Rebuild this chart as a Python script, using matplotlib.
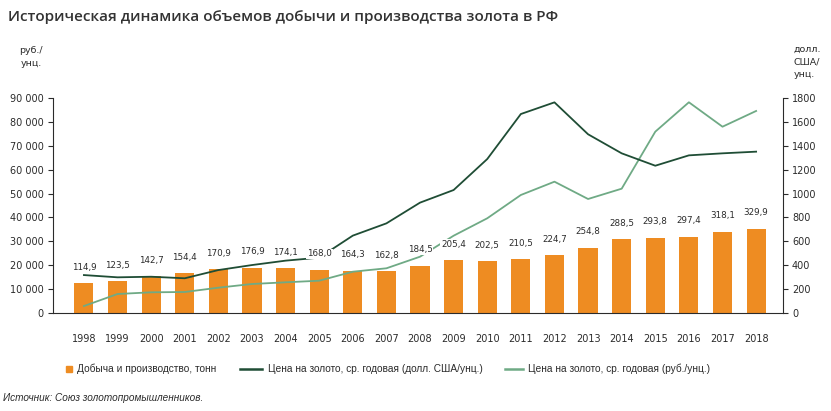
import matplotlib
matplotlib.use("Agg")
import matplotlib.pyplot as plt
from matplotlib.lines import Line2D
import numpy as np

years = [str(y) for y in range(1998, 2019)]
production_t = [114.9, 123.5, 142.7, 154.4, 170.9, 176.9, 174.1, 168.0, 164.3, 162.8,
                184.5, 205.4, 202.5, 210.5, 224.7, 254.8, 288.5, 293.8, 297.4, 318.1, 329.9]
price_usd = [316, 297, 302, 289, 358, 400, 437, 462, 647, 750,
             924, 1030, 1290, 1668, 1766, 1498, 1338, 1234, 1321, 1338, 1352]
price_rub = [2800, 7850, 8560, 8690, 10500, 12050, 12760, 13430, 17210, 18640,
             23510, 32320, 39630, 49410, 55000, 47730, 52060, 75990, 88330, 78080, 84680]
labels_prod = [f"{v:.1f}".replace(".", ",") for v in production_t]
legend_names = ["Добыча и производство, тонн",
                "Цена на золото, ср. годовая (долл. США/унц.)",
                "Цена на золото, ср. годовая (руб./унц.)"]

C_BAR = "#EE8C22"
C_USD = "#1F4D35"
C_RUB = "#6FAA85"
C_TXT = "#2B2B2B"

W, H = 831, 411
fig = plt.figure(figsize=(W / 100, H / 100), dpi=100)
rect = [53 / W, 1 - 312.7 / H, (783 - 53) / W, (312.7 - 98.3) / H]

x = np.arange(len(years))

# bars (hidden axis, drawn first)
axb = fig.add_axes(rect)
axb.bar(x, production_t, width=0.57, color=C_BAR, zorder=1)
axb.set_ylim(0, 841)
axb.set_xlim(-0.92, 20.8)
axb.axis("off")

# left axis: RUB
ax = fig.add_axes(rect)
ax.patch.set_visible(False)
ax.plot(x, price_rub, color=C_RUB, lw=1.3, zorder=3)
ax.set_xlim(-0.92, 20.8)
ax.set_ylim(0, 90000)
ax.set_yticks(np.arange(0, 90001, 10000))
ax.set_yticklabels([f"{v:,}".replace(",", " ") for v in range(0, 90001, 10000)])
ax.set_xticks(x)
ax.set_xticklabels(years)
ax.tick_params(axis="x", length=0, pad=15, labelsize=7, colors=C_TXT)
ax.tick_params(axis="y", length=3.5, width=0.8, pad=3, labelsize=7, colors=C_TXT)
for s in ["top", "right"]:
    ax.spines[s].set_visible(False)
for s in ["left", "bottom"]:
    ax.spines[s].set_color(C_TXT)
    ax.spines[s].set_linewidth(0.8)

# right axis: USD
ax2 = ax.twinx()
ax2.plot(x, price_usd, color=C_USD, lw=1.3, zorder=3)
ax2.set_ylim(0, 1800)
ax2.set_yticks(np.arange(0, 1801, 200))
ax2.tick_params(axis="y", length=3.5, width=0.8, pad=3, labelsize=7, colors=C_TXT)
for s in ["top", "left", "bottom"]:
    ax2.spines[s].set_visible(False)
ax2.spines["right"].set_color(C_TXT)
ax2.spines["right"].set_linewidth(0.8)

# data labels above bars, with white background over lines
for xi, v, lab in zip(x, production_t, labels_prod):
    ax2.annotate(lab, xy=(xi, v), xycoords=axb.transData, xytext=(0, 11.5),
                 textcoords="offset points", ha="center", va="center",
                 fontsize=6.3, color=C_TXT, zorder=5,
                 bbox=dict(boxstyle="square,pad=0.1", fc="white", ec="none"))

# title and unit labels
fig.text(8 / W, 1 - 17 / H, "Историческая динамика объемов добычи и производства золота в РФ",
         fontsize=11, color="#333333", ha="left", va="center",
         family=["Open Sans", "DejaVu Sans"], fontweight="semibold")
fig.text(43 / W, 1 - 57 / H, "руб./\nунц.", fontsize=6.8, color=C_TXT,
         ha="right", va="center", multialignment="center", linespacing=1.45)
fig.text(794 / W, 1 - 62 / H, "долл.\nСША/\nунц.", fontsize=6.8, color=C_TXT,
         ha="left", va="center", multialignment="left", linespacing=1.45)

# legend (manually placed)
ly = 1 - 369 / H
fig.add_artist(Line2D([69 / W], [ly], marker="s", ls="none", color=C_BAR,
                      markersize=5, transform=fig.transFigure))
fig.add_artist(Line2D([240 / W, 262 / W], [ly, ly], color=C_USD, lw=1.8,
                      transform=fig.transFigure))
fig.add_artist(Line2D([505 / W, 523 / W], [ly, ly], color=C_RUB, lw=1.8,
                      transform=fig.transFigure))
for tx, name in zip([77, 268, 528], legend_names):
    fig.text(tx / W, ly, name, fontsize=7.3, color=C_TXT, ha="left", va="center",
             family=["Liberation Sans", "DejaVu Sans"])

fig.text(3 / W, 1 - 398 / H, "Источник: Союз золотопромышленников.", fontsize=7.2,
         style="italic", color=C_TXT, ha="left", va="center",
         family=["Liberation Sans", "DejaVu Sans"])

fig.savefig("out.png", dpi=100)
